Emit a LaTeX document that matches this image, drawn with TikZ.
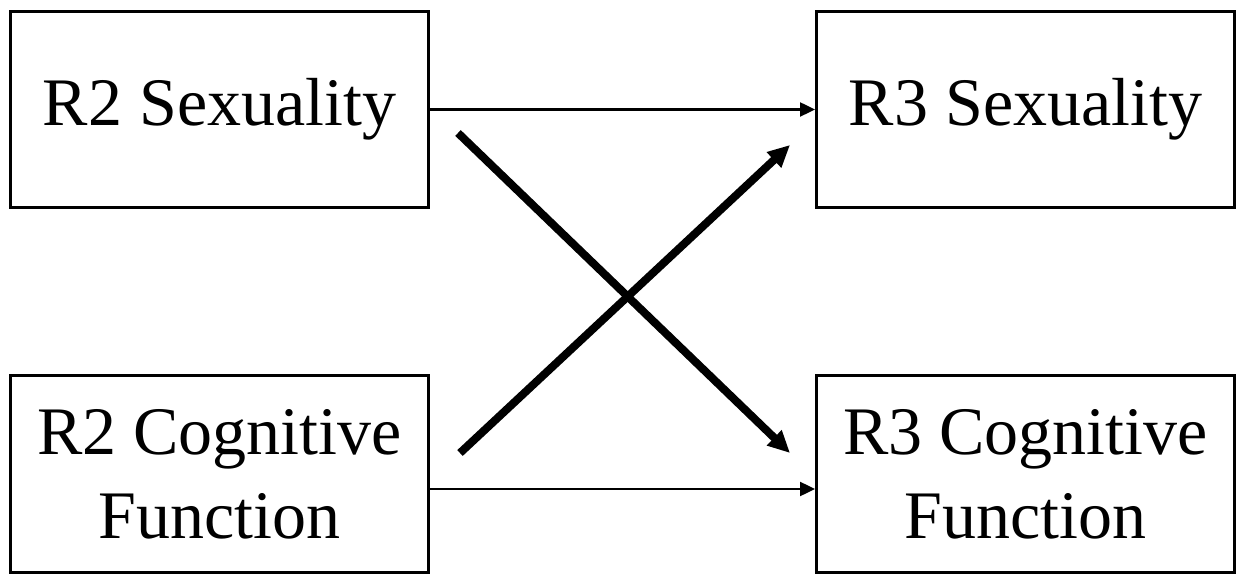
\documentclass[tikz,border=0pt]{standalone}
\usepackage{fontspec}
\setmainfont{Liberation Serif}
\usetikzlibrary{arrows.meta}

\begin{document}
\begin{tikzpicture}[x=0.5pt,y=-0.5pt,line cap=butt,
  box/.style={draw,line width=1.5pt,minimum width=209pt,minimum height=98pt,
    inner sep=0pt,align=center,font=\fontsize{34}{42}\selectfont},
  link/.style={line width=1.2pt,-{Triangle[length=7.5pt,width=7pt]}},
  cross/.style={line width=4pt,-{Triangle[length=11pt,width=10pt]}}]
\useasboundingbox (0,0) rectangle (1245,576);
\node[box] (r2sex) at (219.5,109.5) {R2 Sexuality};
\node[box] (r3sex) at (1025.5,109.5) {R3 Sexuality};
\node[box] (r2cog) at (219.5,474) {R2 Cognitive\\Function};
\node[box] (r3cog) at (1025.5,474) {R3 Cognitive\\Function};
\coordinate (sexout) at (458,133);
\coordinate (cogin) at (790,453);
\coordinate (cogout) at (460,453);
\coordinate (sexin) at (790,145);
\draw[link] (r2sex.east) -- (r3sex.west);
\draw[link] (r2cog.east |- 0,489) -- (r3cog.west |- 0,489);
\draw[cross] (sexout) -- (cogin);
\draw[cross] (cogout) -- (sexin);
\end{tikzpicture}
\end{document}
